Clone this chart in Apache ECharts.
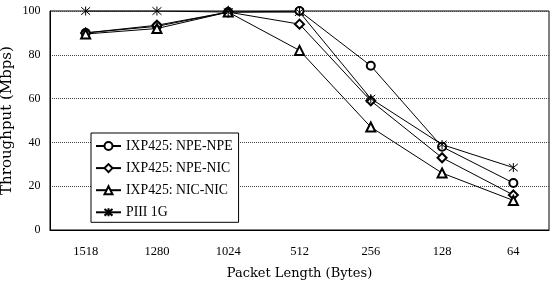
<!DOCTYPE html>
<html><head><meta charset="utf-8">
<script src="https://cdn.jsdelivr.net/npm/echarts@6/dist/echarts.min.js"></script>
<style>html,body{margin:0;padding:0;background:#fff}#c{width:552px;height:287px}</style>
</head><body><div id="c"></div>
<script>
const categories = ['1518', '1280', '1024', '512', '256', '128', '64'];
const npeNpe = [90, 93, 99.5, 100, 75, 38, 21.5];
const npeNic = [90, 93.5, 99.5, 94, 59, 33, 16];
const nicNic = [89.5, 92, 99.5, 82, 47, 26, 13.5];
const piii = [100, 100, 99.5, 99.5, 60, 39, 28.5];
const seriesNames = ['IXP425: NPE-NPE', 'IXP425: NPE-NIC', 'IXP425: NIC-NIC', 'PIII 1G'];

const FONT = 'Liberation Serif';
const NAMEFONT = 'DejaVu Serif';
const star = 'path://M0,0L10,10M10,0L0,10M5,-1L5,11';
function mk(name, data, symbol, size) {
  return {
    name, type: 'line', data, symbol, symbolSize: size,
    lineStyle: { color: '#000', width: 1 },
    itemStyle: { color: '#000', borderColor: '#000', borderWidth: 1 },
    emphasis: { disabled: true }, animation: false
  };
}
const chart = echarts.init(document.getElementById('c'));
chart.setOption({
  backgroundColor: '#fff',
  animation: false,
  grid: { left: 50, top: 11, right: 3, bottom: 57, show: true, borderColor: '#000', borderWidth: 1, containLabel: false, outerBoundsMode: 'none' },
  legend: {
    orient: 'vertical', left: 91, top: 133,
    backgroundColor: '#fff', borderColor: '#000', borderWidth: 1,
    padding: [6, 6, 3, 4], itemWidth: 25, itemHeight: 10, itemGap: 8.1,
    textStyle: { fontFamily: FONT, fontSize: 13.75, color: '#000', lineHeight: 14 },
    data: seriesNames
  },
  xAxis: {
    type: 'category', data: categories, boundaryGap: true,
    name: 'Packet Length (Bytes)', nameLocation: 'middle', nameGap: 37, nameMoveOverlap: false,
    nameTextStyle: { fontFamily: NAMEFONT, fontSize: 13, color: '#000', verticalAlign: 'top' },
    axisLine: { lineStyle: { color: '#000', width: 1 } },
    axisTick: { inside: true, length: 4, lineStyle: { color: '#000' } },
    axisLabel: { fontFamily: FONT, fontSize: 12.5, color: '#000', margin: 15 },
    splitLine: { show: false }
  },
  yAxis: {
    type: 'value', min: 0, max: 100, interval: 20,
    name: 'Throughput (Mbps)', nameLocation: 'middle', nameGap: 35, nameMoveOverlap: false,
    nameTextStyle: { fontFamily: NAMEFONT, fontSize: 15, color: '#000' },
    axisLine: { show: true, lineStyle: { color: '#000', width: 1 } },
    axisTick: { show: false },
    axisLabel: { fontFamily: FONT, fontSize: 12, color: '#000', margin: 9.5 },
    splitLine: { show: true, lineStyle: { color: '#444', type: 'dotted', width: 1 } }
  },
  series: [
    mk(seriesNames[0], npeNpe, 'emptyCircle', 8),
    mk(seriesNames[1], npeNic, 'emptyDiamond', 9),
    mk(seriesNames[2], nicNic, 'emptyTriangle', 9),
    mk(seriesNames[3], piii, star, 9)
  ]
});
</script></body></html>
